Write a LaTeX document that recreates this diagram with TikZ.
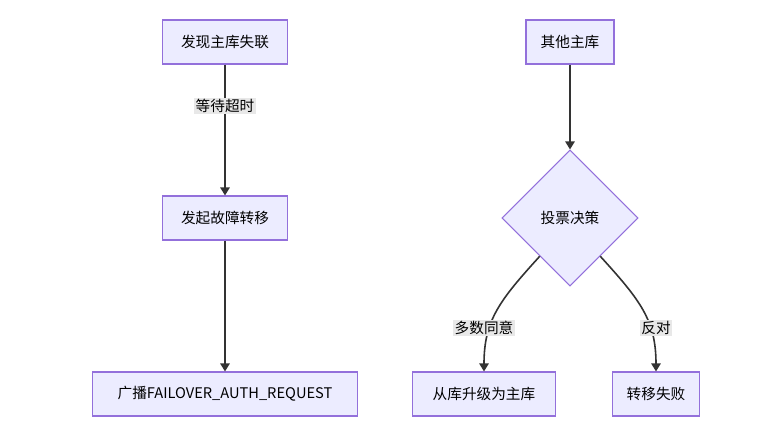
\documentclass[tikz,border=0pt]{standalone}
\usepackage{fontspec}
\setmainfont{Noto Sans CJK SC}
\usetikzlibrary{shapes.geometric,arrows.meta}
\definecolor{boxfill}{HTML}{ECECFF}
\definecolor{boxline}{HTML}{9370DB}
\definecolor{edgecol}{HTML}{333333}
\definecolor{lblfill}{HTML}{E8E8E8}
\tikzset{
  stepbox/.style={draw=boxline,fill=boxfill,line width=0.8pt,minimum height=44*0.0264cm,inner xsep=9pt,font=\fontsize{11}{13}\selectfont},
  votebox/.style={diamond,draw=boxline,fill=boxfill,line width=0.8pt,minimum width=136*0.0264cm,minimum height=136*0.0264cm,inner sep=0pt,font=\fontsize{11}{13}\selectfont},
  flow/.style={draw=edgecol,line width=1.2pt,-{Triangle[length=6pt,width=7pt]}},
  lbl/.style={fill=lblfill,inner sep=1pt,font=\fontsize{11}{13}\selectfont}
}
\begin{document}
\begin{tikzpicture}[x=0.0264cm,y=-0.0264cm]
\useasboundingbox (0,0) rectangle (778,433);
% left column
\node[stepbox,minimum width=125*0.0264cm] (lost) at (225,42) {发现主库失联};
\node[stepbox,minimum width=125*0.0264cm] (start) at (225,218) {发起故障转移};
\node[stepbox,minimum width=265*0.0264cm] (bcast) at (225,394) {广播FAILOVER\_AUTH\_REQUEST};
\draw[flow] (lost) -- (start);
\node[lbl] at (225,106) {等待超时};
\draw[flow] (start) -- (bcast);
% right column
\node[stepbox,minimum width=88*0.0264cm] (other) at (570,42) {其他主库};
\node[votebox] (vote) at (570,218) {投票决策};
\node[stepbox,minimum width=143*0.0264cm] (promo) at (484,394) {从库升级为主库};
\node[stepbox,minimum width=87*0.0264cm] (fail) at (656,394) {转移失败};
\draw[flow] (other) -- (vote);
\draw[flow] (vote.south west) ++(4,4) .. controls (500,300) and (484,320) .. (promo.north);
\draw[flow] (vote.south east) ++(-4,4) .. controls (640,300) and (656,320) .. (fail.north);
\node[lbl] at (484,328) {多数同意};
\node[lbl] at (656,328) {反对};
\end{tikzpicture}
\end{document}
